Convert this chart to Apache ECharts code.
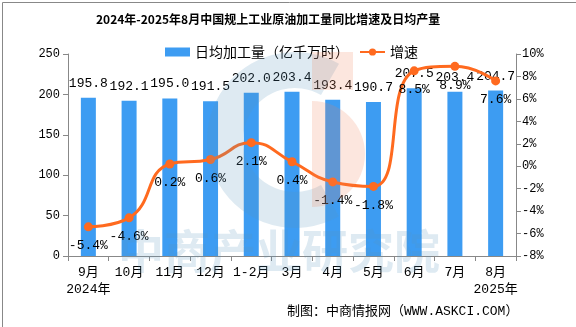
<!DOCTYPE html>
<html><head><meta charset="utf-8">
<script src="https://cdn.jsdelivr.net/npm/echarts@6/dist/echarts.min.js"></script>
<style>html,body{margin:0;padding:0;background:#fff}#c{width:576px;height:327px}</style>
</head><body><div id="c"></div>
<script>
const categories = ['9月\n2024年','10月','11月','12月','1-2月','3月','4月','5月','6月','7月','8月\n2025年'];
const dailyOutput = [195.8,192.1,195.0,191.5,202.0,203.4,193.4,190.7,207.5,203.4,204.7];
const growthRate = [-5.4,-4.6,0.2,0.6,2.1,0.4,-1.4,-1.8,8.5,8.9,7.6];
const leftTicks = {min:0,max:250,interval:50};
const rightTicks = {min:-8,max:10,interval:2};

const font = "'Noto Sans CJK SC', 'DejaVu Sans', sans-serif";
const mono = "'Liberation Mono', 'Noto Sans CJK SC', monospace";
const chart = echarts.init(document.getElementById('c'));
chart.setOption({
  backgroundColor:'#fff',
  animation:false,
  textStyle:{fontFamily:font},
  title:{text:'2024年-2025年8月中国规上工业原油加工量同比增速及日均产量',left:91,top:8,
    textStyle:{fontSize:12,fontWeight:'bold',color:'#000',fontFamily:font}},
  legend:{top:40,left:160,itemWidth:25,itemHeight:9,itemGap:10,
    textStyle:{fontSize:14,color:'#000',fontFamily:font},
    data:[{name:'日均加工量（亿千万时）',icon:'rect'},{name:'增速'}]},
  grid:{left:68,right:60,top:54,bottom:71},
  graphic:[
    {type:'rect',left:0,top:0,z:0,shape:{width:575,height:326},style:{fill:'none',stroke:'#888',lineWidth:1}},
    {type:'sector',z:100,silent:true,shape:{cx:295,cy:140,r:88,r0:52,startAngle:Math.PI/3,endAngle:5*Math.PI/3,clockwise:true},
      style:{fill:'rgba(90,150,190,0.2)'}},
    {type:'rect',z:100,silent:true,shape:{x:312,y:52,width:41,height:38},style:{fill:'rgba(240,130,90,0.2)'}},
    {type:'sector',z:100,silent:true,shape:{cx:312,cy:154,r:53,r0:0,startAngle:-Math.PI/2,endAngle:Math.PI/2,clockwise:true},
      style:{fill:'rgba(240,130,90,0.2)'}},
    {type:'text',z:100,silent:true,left:118,top:228,style:{text:'中商产业研究院',fill:'rgba(90,150,190,0.2)',font:"bold 46px 'Noto Sans CJK SC'"}},
    {type:'text',left:287,top:305,style:{text:'制图：中商情报网（WWW.ASKCI.COM）',fill:'#000',font:"13px 'Liberation Mono', 'Noto Sans CJK SC'"}}
  ],
  xAxis:{type:'category',data:categories,
    axisLine:{lineStyle:{color:'#888'}},axisTick:{show:true,length:5,lineStyle:{color:'#888'}},
    axisLabel:{color:'#000',fontSize:13,margin:8,interval:0,lineHeight:17,fontFamily:mono}},
  yAxis:[
    {type:'value',min:leftTicks.min,max:leftTicks.max,interval:leftTicks.interval,
     axisLine:{show:true,lineStyle:{color:'#888'}},axisTick:{show:true,length:5,lineStyle:{color:'#888'}},
     splitLine:{show:false},axisLabel:{color:'#000',fontSize:12,margin:8,fontFamily:mono}},
    {type:'value',min:rightTicks.min,max:rightTicks.max,interval:rightTicks.interval,
     axisLine:{show:true,lineStyle:{color:'#888'}},axisTick:{show:true,length:5,lineStyle:{color:'#888'}},
     splitLine:{show:false},axisLabel:{color:'#000',fontSize:12,margin:6,formatter:'{value}%',fontFamily:mono}}
  ],
  series:[
    {name:'日均加工量（亿千万时）',type:'bar',data:dailyOutput,barWidth:15,
     itemStyle:{color:'#3d9cf2'},
     label:{show:true,position:'top',distance:8,color:'#000',fontSize:13,fontFamily:mono,formatter:p=>p.value.toFixed(1)}},
    {name:'增速',type:'line',yAxisIndex:1,data:growthRate,smooth:true,symbol:'circle',symbolSize:9,
     lineStyle:{color:'#ff6a1f',width:3},itemStyle:{color:'#ff6a1f'},
     label:{show:true,position:'bottom',distance:8,color:'#000',fontSize:13,fontFamily:mono,formatter:p=>p.value.toFixed(1)+'%'}}
  ]
});
</script></body></html>
